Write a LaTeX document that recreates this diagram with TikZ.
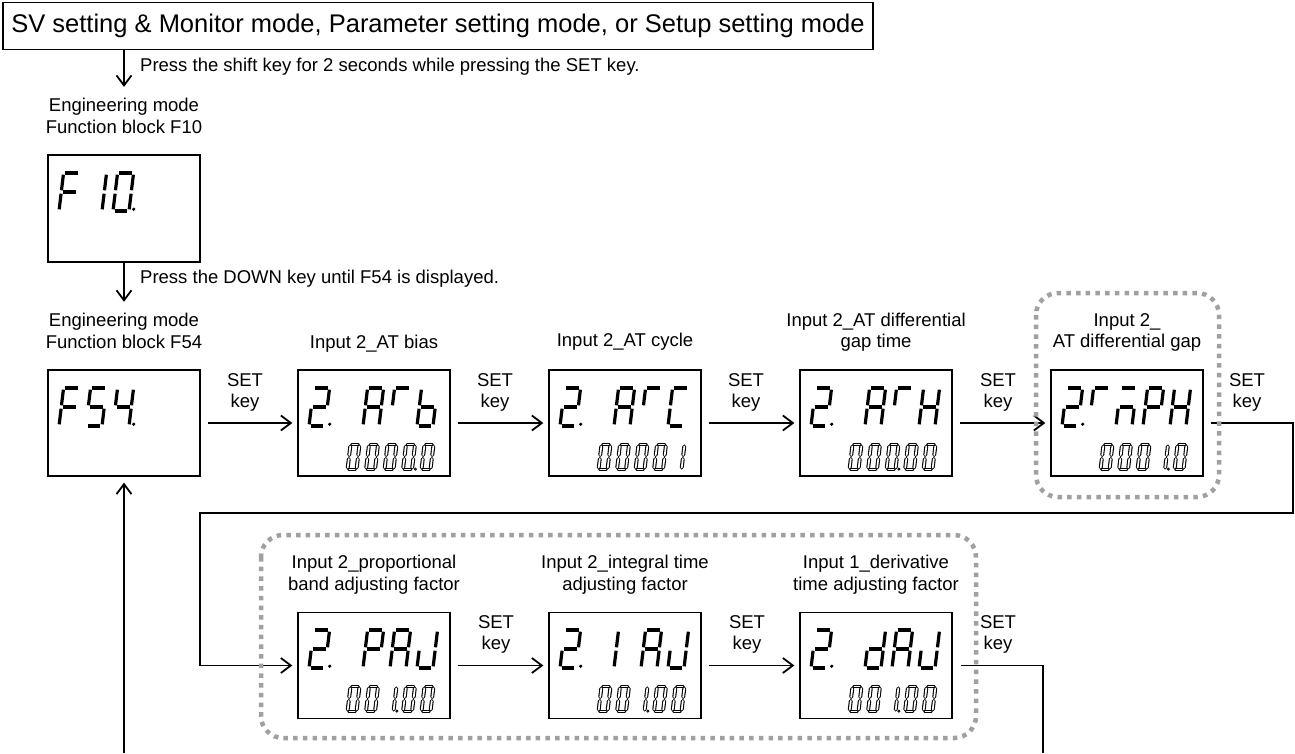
\documentclass[tikz,border=0pt]{standalone}
\usepackage{fontspec}
\setmainfont{Liberation Sans}
\usetikzlibrary{arrows.meta}
\definecolor{dashgray}{RGB}{160,160,160}
% seven-segment geometry (unit cell)
\def\dzsa{(0,1)--(1,1)}
\def\dzsb{(1,1)--(1,0.5)}
\def\dzsc{(1,0.5)--(1,0)}
\def\dzsd{(0,0)--(1,0)}
\def\dzse{(0,0)--(0,0.5)}
\def\dzsf{(0,0.5)--(0,1)}
\def\dzsg{(0,0.5)--(1,0.5)}
% characters
\def\dzcTwo{a,b,g,e,d}
\def\dzcA{a,b,c,e,f,g}
\def\dzcT{a,f}
\def\dzcb{f,e,d,c,g}
\def\dzcC{a,f,e,d}
\def\dzcH{b,c,e,f,g}
\def\dzcm{a,c,e,g}
\def\dzcP{a,b,f,g,e}
\def\dzcJ{b,c,d,e}
\def\dzcI{e,f}
\def\dzcd{b,c,d,e,g}
\def\dzcF{a,f,g,e}
\def\dzcFive{a,f,g,c,d}
\def\dzcFour{f,g,b,c}
\def\dzcOne{b,c}
\def\dzcZero{a,b,c,d,e,f}
\newcommand\dzB[5]{\begin{scope}[shift={(#1+11+27*#3,#2+56)},x=16pt,y=38pt,xslant=0.12]
\foreach \s in #4 {\edef\dztmp{\noexpand\draw[bigseg] \csname dzs\s\endcsname;}\dztmp}
\ifnum#5=1 \fill (1,0) ++(4.5pt,1.8pt) circle (1.8pt);\fi
\end{scope}}
\newcommand\dzS[4]{\begin{scope}[shift={(#1+49.5+18.5*#3,#2+99.5)},x=9pt,y=25pt,xslant=0.12]
\foreach \s in #4 {\edef\dztmp{\noexpand\draw[smallseg] \csname dzs\s\endcsname;}\dztmp}
\end{scope}}
\newcommand\dzSdot[3]{\begin{scope}[shift={(#1+49.5+18.5*#3,#2+99.5)},x=9pt,y=25pt]
\draw[line width=0.8pt] (1,0) ++(3.4pt,0.4pt) circle (1.1pt);\end{scope}}
\newcommand\dzSrow[8]{\dzS{#1}{#2}{0}{#3}\dzS{#1}{#2}{1}{#4}\dzS{#1}{#2}{2}{#5}\dzS{#1}{#2}{3}{#6}\dzS{#1}{#2}{4}{#7}\dzSdot{#1}{#2}{#8}}
\begin{document}
\begin{tikzpicture}[x=1pt,y=-1pt,
  bigseg/.style={line width=3.2pt,line cap=butt,shorten <=1.7pt,shorten >=1.7pt},
  smallseg/.style={line width=1.1pt,double=white,double distance=1.7pt,line cap=round,shorten <=1.9pt,shorten >=1.9pt},
  disp/.style={draw,line width=1.3pt,minimum width=152pt,minimum height=106pt,inner sep=0pt},
  lbl/.style={font=\fontsize{18.5}{21.7}\selectfont,align=center,inner sep=0pt},
  conn/.style={line width=1.8pt},
  arr/.style={conn,-{Straight Barb[length=10pt,width=15pt]}},
  dashbox/.style={draw=dashgray,line width=4.5pt,dash pattern=on 4.5pt off 5.2pt,rounded corners=22pt}]
\useasboundingbox (0,0) rectangle (1295,753);
% top box
\node[draw,line width=1.2pt,minimum width=870pt,minimum height=46.5pt,inner sep=0pt,
  font=\fontsize{25.5}{30}\selectfont] (top) at (438,26) {SV setting \& Monitor mode, Parameter setting mode, or Setup setting mode};
\node[lbl,anchor=west] (t1) at (140,67.3) {\strut Press the shift key for 2 seconds while pressing the SET key.};
\node[lbl] (lf10) at (124,118.3) {\strut Engineering mode\\\strut Function block F10};
\node[disp,minimum height=107pt] (f10) at (124,208.5) {};
\node[lbl,anchor=west] (t2) at (140,279) {\strut Press the DOWN key until F54 is displayed.};
\node[lbl] (lf54) at (124,333.2) {\strut Engineering mode\\\strut Function block F54};
\node[disp] (f54) at (124,423) {};
% row 1
\node[disp] (b1) at (374,423) {};
\node[disp] (b2) at (625,423) {};
\node[disp] (b3) at (876,423) {};
\node[disp] (b4) at (1127,423) {};
\node[lbl] (l1) at (374,344) {\strut Input 2\_AT bias};
\node[lbl] (l2) at (625,342.3) {\strut Input 2\_AT cycle};
\node[lbl] (l3) at (876,332.8) {\strut Input 2\_AT differential\\\strut gap time};
\node[lbl] (l4) at (1127,332.7) {\strut Input 2\_\\\strut AT differential gap};
% row 2
\node[disp] (c1) at (374,665.5) {};
\node[disp] (c2) at (625,665.5) {};
\node[disp] (c3) at (876,665.5) {};
\node[lbl] (m1) at (374,575.2) {\strut Input 2\_proportional\\\strut band adjusting factor};
\node[lbl] (m2) at (625,575.2) {\strut Input 2\_integral time\\\strut adjusting factor};
\node[lbl] (m3) at (876,575.2) {\strut Input 1\_derivative\\\strut time adjusting factor};
% SET key labels
\foreach \n/\x/\y in {s1/245/392.7,s2/495/392.7,s3/746/392.7,s4/998/392.7,s5/1247/392.7,s6/496/634.7,s7/747/634.7,s8/998/634.7}
  \node[lbl] (\n) at (\x,\y) {\strut SET\\\strut key};
% connectors
\draw[arr,shorten >=9.5pt] (top.south -| lf10.north) -- (lf10.north);
\draw[arr,shorten >=9.5pt] (f10.south) -- (lf54.north);
\foreach \a/\b in {f54/b1,b1/b2,b2/b3,b3/b4,c1/c2,c2/c3}
  \draw[arr,shorten <=7pt,shorten >=5pt] (\a.east) -- (\b.west);
\coordinate (r1) at (1293,513);
\coordinate (r2) at (200,513);
\coordinate (r3) at (1043,753);
\coordinate (r4) at (124,753);
\draw[arr,shorten <=7pt,shorten >=5pt] (b4.east) -| (r1) -- (r2) |- (c1.west);
\draw[conn,shorten <=8pt] (c3.east) -| (r3);
\draw[arr,shorten >=6pt] (r4) -- (f54.south);
% dashed groups
\draw[dashbox] (1036,293) rectangle (1219,497);
\draw[dashbox] (261,535) rectangle (976,738);
% displays
\dzB{48}{155}{0}{\dzcF}{0}\dzB{48}{155}{1}{\dzcOne}{0}\dzB{48}{155}{2}{\dzcZero}{1}
\dzB{48}{370}{0}{\dzcF}{0}\dzB{48}{370}{1}{\dzcFive}{0}\dzB{48}{370}{2}{\dzcFour}{1}
\dzB{298}{370}{0}{\dzcTwo}{1}\dzB{298}{370}{2}{\dzcA}{0}\dzB{298}{370}{3}{\dzcT}{0}\dzB{298}{370}{4}{\dzcb}{0}
\dzSrow{298}{370}{\dzcZero}{\dzcZero}{\dzcZero}{\dzcZero}{\dzcZero}{3}
\dzB{549}{370}{0}{\dzcTwo}{1}\dzB{549}{370}{2}{\dzcA}{0}\dzB{549}{370}{3}{\dzcT}{0}\dzB{549}{370}{4}{\dzcC}{0}
\dzS{549}{370}{0}{\dzcZero}\dzS{549}{370}{1}{\dzcZero}\dzS{549}{370}{2}{\dzcZero}\dzS{549}{370}{3}{\dzcZero}\dzS{549}{370}{4}{\dzcOne}
\dzB{800}{370}{0}{\dzcTwo}{1}\dzB{800}{370}{2}{\dzcA}{0}\dzB{800}{370}{3}{\dzcT}{0}\dzB{800}{370}{4}{\dzcH}{0}
\dzSrow{800}{370}{\dzcZero}{\dzcZero}{\dzcZero}{\dzcZero}{\dzcZero}{2}
\dzB{1051}{370}{0}{\dzcTwo}{1}\dzB{1051}{370}{1}{\dzcT}{0}\dzB{1051}{370}{2}{\dzcm}{0}\dzB{1051}{370}{3}{\dzcP}{0}\dzB{1051}{370}{4}{\dzcH}{0}
\dzSrow{1051}{370}{\dzcZero}{\dzcZero}{\dzcZero}{\dzcOne}{\dzcZero}{3}
\dzB{298}{612}{0}{\dzcTwo}{1}\dzB{298}{612}{2}{\dzcP}{0}\dzB{298}{612}{3}{\dzcA}{0}\dzB{298}{612}{4}{\dzcJ}{0}
\dzSrow{298}{612}{\dzcZero}{\dzcZero}{\dzcOne}{\dzcZero}{\dzcZero}{2}
\dzB{549}{612}{0}{\dzcTwo}{1}\dzB{549}{612}{2}{\dzcI}{0}\dzB{549}{612}{3}{\dzcA}{0}\dzB{549}{612}{4}{\dzcJ}{0}
\dzSrow{549}{612}{\dzcZero}{\dzcZero}{\dzcOne}{\dzcZero}{\dzcZero}{2}
\dzB{800}{612}{0}{\dzcTwo}{1}\dzB{800}{612}{2}{\dzcd}{0}\dzB{800}{612}{3}{\dzcA}{0}\dzB{800}{612}{4}{\dzcJ}{0}
\dzSrow{800}{612}{\dzcZero}{\dzcZero}{\dzcOne}{\dzcZero}{\dzcZero}{2}
\end{tikzpicture}
\end{document}
